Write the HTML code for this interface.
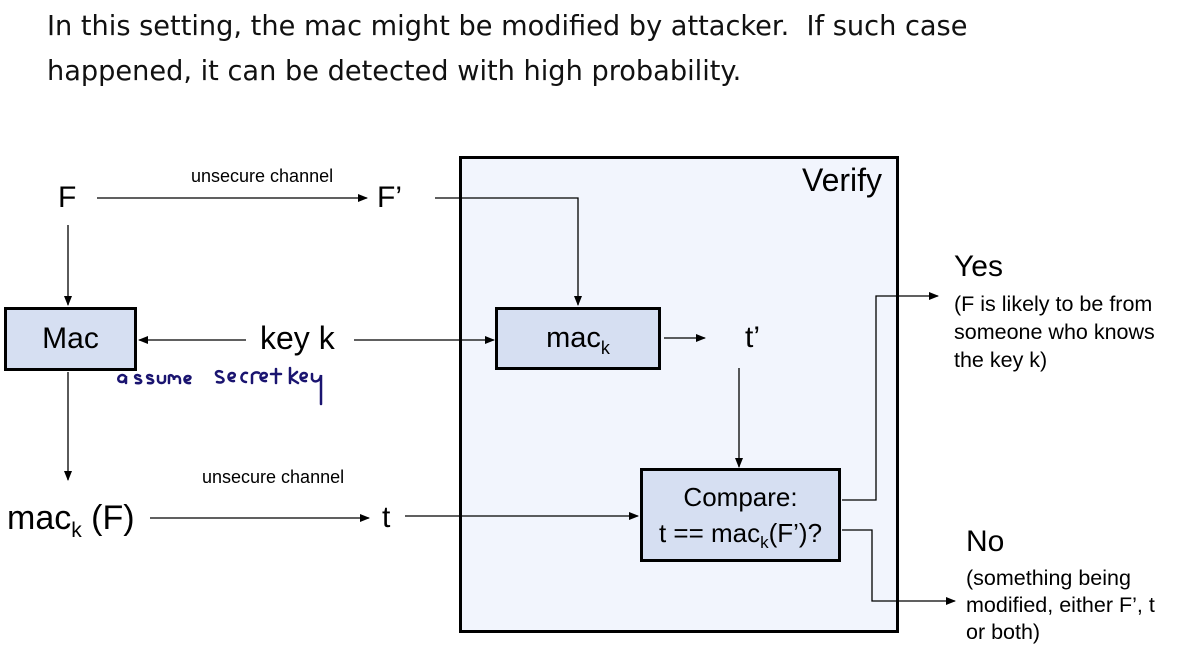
<!DOCTYPE html>
<html><head><style>
body{margin:0;width:1177px;height:651px;background:#fff;overflow:hidden;position:relative;font-family:"Liberation Sans",sans-serif}
.t{position:absolute;white-space:nowrap;color:#000}
.box{position:absolute;border:3px solid #000;box-sizing:border-box;background:#d6dff2;text-align:center}
sub{line-height:0}
</style></head><body>
<div class="t" style="left:47px;top:4px;line-height:45px;font-family:'DejaVu Sans',sans-serif;font-size:27.2px;color:#111">In this setting, the mac might be modified by attacker.&nbsp; If such case<br>happened, it can be detected with high probability.</div>
<div class="box" style="left:459px;top:156px;width:440px;height:477px;background:#f2f5fd"></div>
<div class="t" style="left:802px;top:162px;font-size:32px">Verify</div>
<div class="box" style="left:4px;top:307px;width:133px;height:64px;font-size:30px;line-height:58px">Mac</div>
<div class="box" style="left:495px;top:307px;width:166px;height:63px;font-size:29px;line-height:57px">mac<sub style="font-size:18px">k</sub></div>
<div class="box" style="left:640px;top:468px;width:201px;height:94px;font-size:26px;line-height:36px;padding-top:8px">Compare:<br>t == mac<sub style="font-size:17px">k</sub>(F’)?</div>
<svg style="position:absolute;left:0;top:0" width="1177" height="651">
<defs><marker id="a" markerWidth="10" markerHeight="8" refX="9" refY="4" orient="auto" markerUnits="userSpaceOnUse"><path d="M0,0L10,4L0,8z"/></marker></defs>
<g stroke="#000" stroke-width="1.3" fill="none" marker-end="url(#a)">
<path d="M97,198H367"/>
<path d="M435,198H578V305"/>
<path d="M68,225V305"/>
<path d="M246,340H139"/>
<path d="M354,340H494"/>
<path d="M664,338H705"/>
<path d="M739,368V467"/>
<path d="M68,372V480"/>
<path d="M150,518H369"/>
<path d="M405,516H638"/>
<path d="M842,500H876V296H938"/>
<path d="M842,530H872V601H955"/>
</g>
<g stroke="#1a1470" stroke-width="2.5" fill="none" stroke-linecap="round">
<path d="M125,376c-6,-4 -10,6 -3,6c3,0 4,-4 4,-6v7 M140,376c-5,-3 -7,2 -2,3c5,1 4,5 -2,4 M152,376c-5,-3 -7,2 -2,3c5,1 4,5 -2,4 M158,376v4c0,4 7,4 7,0v-4 M169,383v-7c2,-2 5,0 5,4c0,-5 6,-5 6,0v3 M186,380c5,0 6,-4 2,-4c-5,0 -5,8 2,7"/>
<path d="M222,372c-6,-3 -9,3 -2,5c6,2 4,7 -3,5 M230,378c6,0 6,-5 2,-5c-5,0 -5,9 2,8 M247,373c-5,-2 -9,8 -1,9 M252,383v-8c2,-3 5,-3 7,-2 M262,378c6,0 6,-5 2,-5c-5,0 -5,9 2,8 M276,369v14 M271,374h10 M290,368v15 M290,378l7,-6 M290,378l8,5 M302,378c6,0 6,-5 2,-5c-5,0 -5,9 2,8 M312,374v5c2,4 8,3 9,-4v10 M321,380v24"/>
</g>
</svg>
<div class="t" style="left:58px;top:181px;font-size:30px">F</div>
<div class="t" style="left:377px;top:181px;font-size:30px">F’</div>
<div class="t" style="left:191px;top:166px;font-size:18px">unsecure channel</div>
<div class="t" style="left:202px;top:467px;font-size:18px">unsecure channel</div>
<div class="t" style="left:260px;top:320px;font-size:32px">key k</div>
<div class="t" style="left:745px;top:321px;font-size:30px">t’</div>
<div class="t" style="left:7px;top:499px;font-size:34px">mac<sub style="font-size:21px">k</sub> (F)</div>
<div class="t" style="left:382px;top:501px;font-size:30px">t</div>
<div class="t" style="left:954px;top:250px;font-size:30px">Yes</div>
<div class="t" style="left:954px;top:290px;font-size:21.5px;line-height:28px">(F is likely to be from<br>someone who knows<br>the key k)</div>
<div class="t" style="left:966px;top:525px;font-size:30px">No</div>
<div class="t" style="left:966px;top:565px;font-size:21.5px;line-height:27px">(something being<br>modified, either F’, t<br>or both)</div>
</body></html>
